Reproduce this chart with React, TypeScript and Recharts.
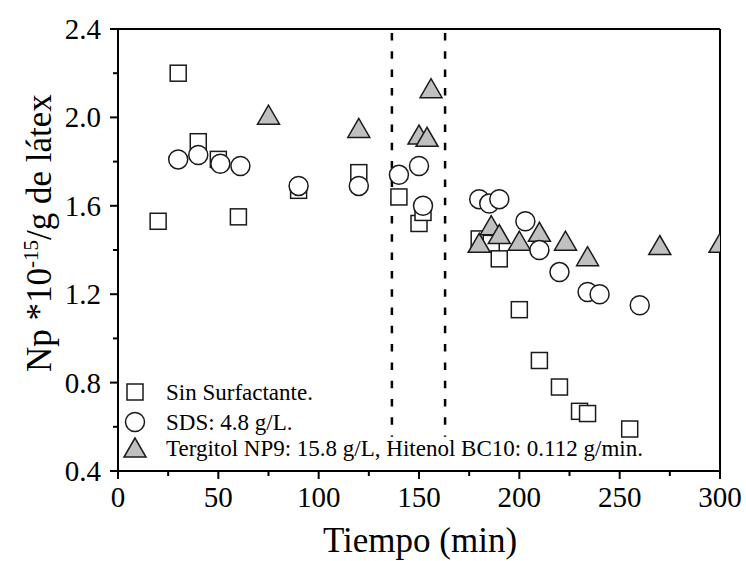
import React from 'react';
import { ScatterChart, Scatter, XAxis, YAxis, ReferenceLine, Legend } from 'recharts';

// ---- data ----
const sinX = [20, 30, 40, 50, 60, 90, 120, 140, 150, 152, 180, 186, 190, 200, 210, 220, 230, 234, 255];
const sinY = [1.53, 2.2, 1.89, 1.81, 1.55, 1.67, 1.75, 1.64, 1.52, 1.57, 1.45, 1.43, 1.36, 1.13, 0.9, 0.78, 0.67, 0.66, 0.59];

const sdsX = [30, 40, 51, 61, 90, 120, 140, 150, 152, 180, 185, 190, 203, 210, 220, 234, 240, 260];
const sdsY = [1.81, 1.83, 1.79, 1.78, 1.69, 1.69, 1.74, 1.78, 1.6, 1.63, 1.61, 1.63, 1.53, 1.4, 1.3, 1.21, 1.2, 1.15];

const terX = [75, 120, 150, 154, 156, 180, 186, 190, 200, 210, 223, 234, 270, 300];
const terY = [2.01, 1.95, 1.92, 1.91, 2.13, 1.43, 1.51, 1.47, 1.44, 1.48, 1.44, 1.37, 1.42, 1.43];

const xTicks = [0, 25, 50, 75, 100, 125, 150, 175, 200, 225, 250, 275, 300];
const xMajor = [0, 50, 100, 150, 200, 250, 300];
const yTicks = [0.4, 0.6, 0.8, 1.0, 1.2, 1.4, 1.6, 1.8, 2.0, 2.2, 2.4];
const yMajor = [0.4, 0.8, 1.2, 1.6, 2.0, 2.4];
const dividers = [136.5, 163];
const dividerTop = 2.382;
const dividerBottom = 0.555;

const legendLabels = [
  'Sin Surfactante.',
  'SDS: 4.8 g/L.',
  'Tergitol NP9: 15.8 g/L, Hitenol BC10: 0.112 g/min.',
];

const toPts = (xs: number[], ys: number[]) => xs.map((x, i) => ({ x, y: ys[i] }));
const sinData = toPts(sinX, sinY);
const sdsData = toPts(sdsX, sdsY);
const terData = toPts(terX, terY);

const FONT = "'Liberation Serif', 'Times New Roman', Times, serif";
const STROKE = '#1a1a1a';
const GRAY = '#c0c0c0';

// ---- marker shapes ----
const SquareShape = (p: any) => (
  <rect x={p.cx - 8} y={p.cy - 8} width={16} height={16} fill="#fff" stroke={STROKE} strokeWidth={1.5} />
);
const CircleShape = (p: any) => (
  <circle cx={p.cx} cy={p.cy} r={9.5} fill="#fff" stroke={STROKE} strokeWidth={1.5} />
);
const TriShape = (p: any) => (
  <polygon
    points={`${p.cx},${p.cy - 10} ${p.cx - 11},${p.cy + 9} ${p.cx + 11},${p.cy + 9}`}
    fill={GRAY}
    stroke={STROKE}
    strokeWidth={1.5}
  />
);

// ---- ticks ----
const XTick = (p: any) => {
  const v = p.payload.value;
  const major = xMajor.includes(v);
  const len = major ? 8 : 5;
  return (
    <g>
      <line x1={p.x} x2={p.x} y1={p.y} y2={p.y + len} stroke="#000" strokeWidth={2} />
      {major && (
        <text x={p.x} y={p.y + 36} textAnchor="middle" fontFamily={FONT} fontSize={29} fill="#000">
          {v}
        </text>
      )}
    </g>
  );
};

const YTick = (p: any) => {
  const v = p.payload.value;
  const major = yMajor.some((m) => Math.abs(m - v) < 1e-6);
  const len = major ? 8 : 5;
  return (
    <g>
      <line x1={p.x - len} x2={p.x} y1={p.y} y2={p.y} stroke="#000" strokeWidth={2} />
      {major && (
        <text x={p.x - 17} y={p.y + 10} textAnchor="end" fontFamily={FONT} fontSize={29} fill="#000">
          {v.toFixed(1)}
        </text>
      )}
    </g>
  );
};

const YTitle = () => (
  <text transform="translate(51,372) rotate(-90)" textAnchor="start" fontFamily={FONT} fontSize={35} fill="#000">
    <tspan>Np *10</tspan>
    <tspan dy={-13} fontSize={21}>-15</tspan>
    <tspan dy={13}>/g de látex</tspan>
  </text>
);

const XTitle = () => (
  <text x={420} y={552} textAnchor="middle" fontFamily={FONT} fontSize={35} fill="#000">
    Tiempo (min)
  </text>
);

const LegendBox = () => {
  const rows = [17, 47, 73];
  return (
    <svg width={560} height={90} style={{ display: 'block', overflow: 'visible' }}>
      <rect x={7} y={rows[0] - 8} width={16} height={16} fill="#fff" stroke={STROKE} strokeWidth={1.5} />
      <circle cx={15} cy={rows[1]} r={9.5} fill="#fff" stroke={STROKE} strokeWidth={1.5} />
      <polygon
        points={`15,${rows[2] - 10} 4,${rows[2] + 9} 26,${rows[2] + 9}`}
        fill={GRAY}
        stroke={STROKE}
        strokeWidth={1.5}
      />
      {legendLabels.map((t, i) => (
        <text key={t} x={46} y={rows[i] + 8} fontFamily={FONT} fontSize={23} fill="#000">
          {t}
        </text>
      ))}
    </svg>
  );
};

export default function App() {
  return (
    <div style={{ position: 'absolute', left: 0, top: 0, width: 746, height: 561, background: '#fff' }}>
      <ScatterChart width={746} height={561} margin={{ top: 29, right: 26, bottom: 0, left: 0 }}>
        <XAxis
          type="number"
          dataKey="x"
          domain={[0, 300]}
          ticks={xTicks}
          interval={0}
          allowDataOverflow
          height={90}
          tickSize={0}
          tickMargin={0}
          tickLine={false}
          tick={<XTick />}
          axisLine={{ stroke: '#000', strokeWidth: 2 }}
          label={{ content: () => <XTitle /> }}
        />
        <YAxis
          type="number"
          dataKey="y"
          domain={[0.4, 2.4]}
          ticks={yTicks}
          interval={0}
          allowDataOverflow
          width={118}
          tickSize={0}
          tickMargin={0}
          tickLine={false}
          tick={<YTick />}
          axisLine={{ stroke: '#000', strokeWidth: 2 }}
          label={{ content: () => <YTitle /> }}
        />
        <ReferenceLine y={2.4} stroke="#000" strokeWidth={2} />
        <ReferenceLine x={300} stroke="#000" strokeWidth={2} />
        {dividers.map((d) => (
          <ReferenceLine
            key={d}
            segment={[
              { x: d, y: dividerTop },
              { x: d, y: dividerBottom },
            ]}
            stroke="#000"
            strokeWidth={2.5}
            strokeDasharray="7.5 10.8"
          />
        ))}
        <Scatter name="sin" data={sinData} shape={SquareShape} isAnimationActive={false} />
        <Scatter name="ter" data={terData} shape={TriShape} isAnimationActive={false} />
        <Scatter name="sds" data={sdsData} shape={CircleShape} isAnimationActive={false} />
        <Legend
          layout="vertical"
          align="center"
          verticalAlign="middle"
          wrapperStyle={{ left: 120, top: 375, width: 560 }}
          content={() => <LegendBox />}
        />
      </ScatterChart>
    </div>
  );
}
